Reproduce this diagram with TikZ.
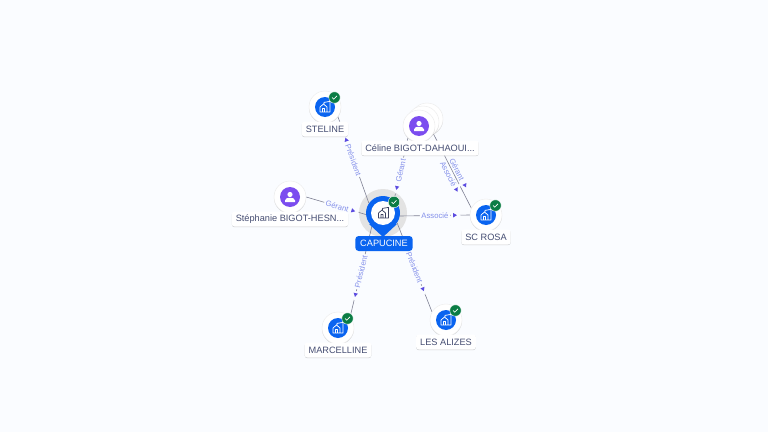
\documentclass[tikz,border=0pt]{standalone}
\usepackage{fontspec}
\setmainfont{Liberation Sans}
\usepackage{xcolor}
\usetikzlibrary{shapes.geometric,shadows}
\definecolor{pagebg}{HTML}{FAFCFF}
\definecolor{compblue}{HTML}{0A64F0}
\definecolor{persviolet}{HTML}{7C4DEF}
\definecolor{okgreen}{HTML}{0B7D45}
\definecolor{ink}{HTML}{454D72}
\definecolor{linkgrey}{HTML}{7F8194}
\definecolor{linktext}{HTML}{8490EA}
\definecolor{tipviolet}{HTML}{5B4BE0}
\pgfdeclarelayer{back}
\pgfdeclarelayer{links}
\pgfsetlayers{back,links,main}
\tikzset{
  softshadow/.style={drop shadow={shadow xshift=0pt,shadow yshift=-.5pt,opacity=.18,fill=black}},
  disc/.style={circle,fill=white,draw=black!8,line width=.3pt,minimum size=24pt,inner sep=0,softshadow},
  compdot/.style={circle,fill=compblue,minimum size=15pt,inner sep=0},
  persdot/.style={circle,fill=persviolet,minimum size=15pt,inner sep=0},
  okdot/.style={circle,fill=okgreen,draw=white,line width=.3pt,minimum size=8.6pt,inner sep=0},
  tag/.style={fill=white,rounded corners=2pt,inner xsep=3pt,inner ysep=0,
    minimum height=11.25pt,text=ink,font=\fontsize{6.9}{7}\selectfont,softshadow},
  link/.style={draw=linkgrey,line width=.45pt},
  linklabel/.style={sloped,fill=pagebg,inner xsep=1.2pt,inner ysep=.4pt,text=linktext,
    font=\fontsize{5.8}{6}\selectfont},
  linktip/.style={sloped,allow upside down,regular polygon,regular polygon sides=3,shape border rotate=-90,
    fill=tipviolet,preaction={draw=pagebg,line width=3pt},inner sep=0,minimum size=3.8pt},
  pics/houses/.style={code={
    \draw[#1,line width=.55pt,line join=round]
      (-1,-3) -- (-1,-4.6) -- (5,-5.6) -- (5,5) -- (-5,5) -- (-5,0) -- (-1.5,-3) -- (2,0) -- (2,5)
      (-2.6,5) -- (-2.6,1.6) -- (-.4,1.6) -- (-.4,5);
  }},
  pics/person/.style={code={
    \fill[white] (0,-2.5) circle (2.6);
    \fill[white] (-5,5) -- (-5,3.4) .. controls (-5,1) and (-2,.8) .. (0,.8)
      .. controls (2,.8) and (5,1) .. (5,3.4) -- (5,5) -- cycle;
  }},
  pics/tick/.style={code={
    \draw[white,line width=.5pt] (-2.4,0) -- (-.7,1.7) -- (2.5,-1.6);
  }}
}
\begin{document}
\begin{tikzpicture}[x=.75pt,y=-.75pt]
  \useasboundingbox (0,0) rectangle (768,432);
  \begin{pgfonlayer}{back}
    \fill[pagebg] (0,0) rectangle (768,432);
    \fill[black!11] (383,213) circle (24);
  \end{pgfonlayer}

  % centre
  \fill[compblue] (369,224) -- (383,237) -- (397,224) -- cycle;
  \node[circle,fill=compblue,minimum size=25.5pt,inner sep=0] (capucine) at (383,213) {};
  \node[circle,fill=white,minimum size=18pt,inner sep=0] (capucineinner) at (383,213) {};
  \pic at (383.5,213) {houses={draw=ink!85!black}};
  \node[okdot] (capucineok) at (394,202) {};
  \pic at (394,202) {tick};
  \node[fill=compblue,rounded corners=2.5pt,inner xsep=3pt,inner ysep=0,minimum width=43pt,
    minimum height=11.25pt,text=white,font=\fontsize{6.9}{7}\selectfont] (capucinetag) at (384,243.5) {CAPUCINE};

  % societes
  \foreach \nm/\px/\py/\txt in {steline/325/107/STELINE,scrosa/486/215/SC ROSA,
      marcelline/338/328/MARCELLINE,alizes/446/320/LES ALIZES}{
    \node[disc] (\nm) at (\px,\py) {};
    \node[compdot] (\nm dot) at (\px,\py) {};
    \pic at (\px,\py) {houses={draw=white}};
    \node[okdot] (\nm ok) at ([shift={(9.5,-9.5)}]\nm.center) {};
    \pic at (\nm ok) {tick};
    \node[tag] (\nm tag) at (\px,\py+22) {\txt};
  }

  % personnes
  \node[disc] (celine3) at (427,119) {};
  \node[disc] (celine2) at (423,122) {};
  \node[disc] (celine) at (419,126) {};
  \node[persdot] (celinedot) at (419,126) {};
  \pic at (419,126) {person};
  \node[tag] (celinetag) at (420,148) {Céline BIGOT-DAHAOUI...};
  \node[disc] (stephanie) at (290,197) {};
  \node[persdot] (stephaniedot) at (290,197) {};
  \pic at (290,197) {person};
  \node[tag] (stephanietag) at (290,219) {Stéphanie BIGOT-HESN...};

  % liens
  \begin{pgfonlayer}{links}
    \draw[link] (capucine.145) --
      node[linktip,pos=.73] {}
      node[linklabel,pos=.5] {Président} (steline.-37);
    \draw[link] (celine.227) --
      node[linktip,pos=.8] {}
      node[linklabel,pos=.53] {Gérant} (capucine.50);
    \draw[link] (stephanie.0) --
      node[linktip,pos=.78] {}
      node[linklabel,pos=.52] {Gérant} (capucine.185);
    \draw[link] (capucine.-10) --
      node[linktip,pos=.78] {}
      node[linklabel,pos=.5] {Associé} (scrosa.180);
    \draw[link] (capucine.230) --
      node[linktip,pos=.75] {}
      node[linklabel,pos=.5] {Président} (marcelline.42);
    \draw[link] (capucine.-35) --
      node[linktip,pos=.74] {}
      node[linklabel,pos=.5] {Président} (alizes.150);
    \draw[link] (celine.-28) --
      node[linktip,pos=.72,yshift=3.6pt] {}
      node[linktip,pos=.72,yshift=-3.6pt] {}
      node[linklabel,pos=.51,yshift=3.6pt] {Gérant}
      node[linklabel,pos=.51,yshift=-3.6pt] {Associé} (scrosa.155);
  \end{pgfonlayer}
\end{tikzpicture}
\end{document}
